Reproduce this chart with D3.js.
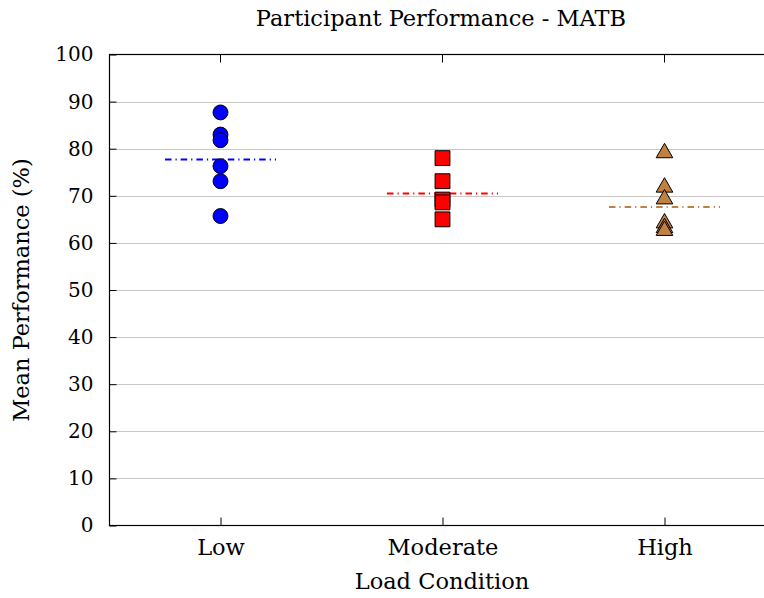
<!DOCTYPE html>
<html>
<head>
<meta charset="utf-8">
<script src="https://cdn.jsdelivr.net/npm/d3@7"></script>
<style>
  body { margin: 0; background: #fff; }
  text { font-family: "DejaVu Serif", "Liberation Serif", serif; fill: #000; }
</style>
</head>
<body>
<div id="chart"></div>
<script>
// Data
const categories = ['Low', 'Moderate', 'High'];
const lowValues = [87.7, 83.0, 81.8, 76.3, 73.1, 65.7];
const moderateValues = [78.0, 73.1, 69.2, 68.6, 65.0];
const highValues = [79.1, 71.8, 69.3, 64.2, 63.2, 62.6];
const meanValues = [77.7, 70.5, 67.6];
const yTicks = [0, 10, 20, 30, 40, 50, 60, 70, 80, 90, 100];

const TITLE = 'Participant Performance - MATB';
const X_LABEL = 'Load Condition';
const Y_LABEL = 'Mean Performance (%)';

const COLORS = ['#0000ff', '#ff0000', '#bf8040'];
const SHAPES = [d3.symbolCircle, d3.symbolSquare, d3.symbolTriangle];
const SIZES = [175, 220, 120];
const NUM_FONT = 20;
const WORD_FONT = 22.5;

const WIDTH = 764, HEIGHT = 598;
const PLOT = {left: 109.5, right: 775.5, top: 54.5, bottom: 525.5};

const svg = d3.select('#chart').append('svg')
  .attr('width', WIDTH)
  .attr('height', HEIGHT);

const x = d3.scaleLinear().domain([0.5, 3.5]).range([PLOT.left, PLOT.right]);
const y = d3.scaleLinear().domain([0, 100]).range([PLOT.bottom, PLOT.top]);

// Grid lines
svg.append('g')
  .selectAll('line')
  .data(yTicks.filter(t => t > 0 && t < 100))
  .enter().append('line')
  .attr('x1', PLOT.left).attr('x2', PLOT.right)
  .attr('y1', d => Math.round(y(d)) + 0.5).attr('y2', d => Math.round(y(d)) + 0.5)
  .attr('stroke', '#c8c8c8')
  .attr('stroke-width', 1);

// Y axis (ticks inward)
const yAxis = d3.axisLeft(y).tickValues(yTicks).tickSizeInner(-7).tickSizeOuter(0).tickPadding(16);
const gy = svg.append('g')
  .attr('transform', `translate(${PLOT.left},0)`)
  .call(yAxis);
gy.select('.domain').remove();
gy.selectAll('.tick line').attr('stroke', '#000');
gy.selectAll('.tick text').attr('font-size', NUM_FONT);

// X axis (ticks inward, bottom and top)
const xAxis = d3.axisBottom(x).tickValues([1, 2, 3]).tickFormat(d => categories[d - 1])
  .tickSizeInner(-8).tickSizeOuter(0).tickPadding(14);
const gx = svg.append('g')
  .attr('transform', `translate(0,${PLOT.bottom})`)
  .call(xAxis);
gx.select('.domain').remove();
gx.selectAll('.tick line').attr('stroke', '#000');
gx.selectAll('.tick text').attr('font-size', WORD_FONT);

svg.append('g')
  .selectAll('line')
  .data([1, 2, 3])
  .enter().append('line')
  .attr('x1', d => x(d)).attr('x2', d => x(d))
  .attr('y1', PLOT.top).attr('y2', PLOT.top + 8)
  .attr('stroke', '#000');

// Frame
svg.append('rect')
  .attr('x', PLOT.left).attr('y', PLOT.top)
  .attr('width', PLOT.right - PLOT.left).attr('height', PLOT.bottom - PLOT.top)
  .attr('fill', 'none')
  .attr('stroke', '#000')
  .attr('stroke-width', 1.2);

// Mean lines
svg.append('g')
  .selectAll('line')
  .data(meanValues)
  .enter().append('line')
  .attr('x1', (d, i) => x(i + 1 - 0.25))
  .attr('x2', (d, i) => x(i + 1 + 0.25))
  .attr('y1', d => y(d)).attr('y2', d => y(d))
  .attr('stroke', (d, i) => COLORS[i])
  .attr('stroke-width', 2)
  .attr('stroke-dasharray', '6.5,4,1.2,4');

// Markers
[lowValues, moderateValues, highValues].forEach((values, i) => {
  const sym = d3.symbol().type(SHAPES[i]).size(SIZES[i]);
  svg.append('g')
    .selectAll('path')
    .data(values)
    .enter().append('path')
    .attr('d', sym)
    .attr('transform', d => `translate(${x(i + 1)},${y(d)})`)
    .attr('fill', COLORS[i])
    .attr('stroke', '#000')
    .attr('stroke-width', 1);
});

// Labels
svg.append('text')
  .attr('x', 441).attr('y', 26)
  .attr('text-anchor', 'middle')
  .attr('font-size', WORD_FONT)
  .text(TITLE);

svg.append('text')
  .attr('x', 442).attr('y', 589)
  .attr('text-anchor', 'middle')
  .attr('font-size', WORD_FONT)
  .text(X_LABEL);

svg.append('text')
  .attr('transform', `translate(29,290)rotate(-90)`)
  .attr('text-anchor', 'middle')
  .attr('font-size', WORD_FONT)
  .text(Y_LABEL);
</script>
</body>
</html>
